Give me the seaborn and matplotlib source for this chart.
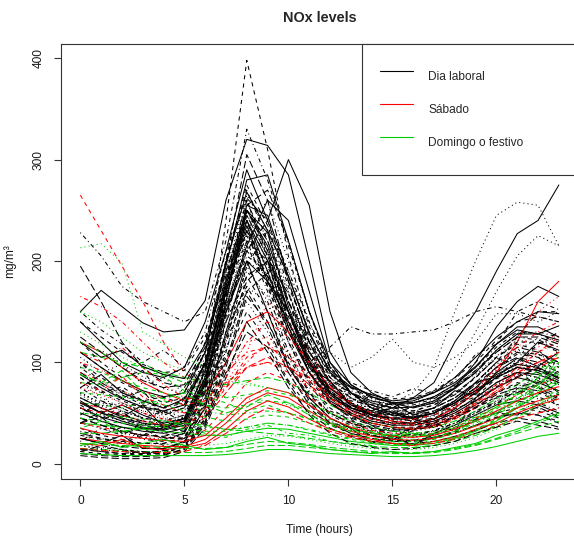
import matplotlib
matplotlib.use("Agg")
import matplotlib.pyplot as plt
import pandas as pd
import seaborn as sns

# NOx hourly curves (mg/m3), one list per day, hours 0..23
hours = list(range(24))

laboral = [
    [150, 171, 155, 139, 130, 132, 161, 260, 320, 314, 285, 200, 110, 78, 66, 60, 62, 70, 85, 105, 125, 140, 150, 148],
    [228, 205, 175, 160, 150, 140, 150, 220, 330, 280, 215, 150, 95, 70, 55, 48, 45, 50, 60, 75, 95, 110, 105, 90],
    [195, 160, 120, 95, 80, 75, 110, 200, 305, 260, 180, 120, 80, 60, 50, 45, 42, 45, 55, 70, 85, 95, 90, 80],
    [140, 120, 100, 90, 85, 95, 140, 210, 290, 240, 300, 255, 150, 90, 70, 60, 55, 60, 75, 100, 135, 160, 175, 165],
    [58, 45, 52, 34, 38, 40, 95, 240, 398, 310, 205, 135, 95, 75, 62, 55, 52, 58, 68, 85, 105, 118, 112, 95],
    [80, 65, 55, 45, 40, 45, 90, 180, 260, 200, 140, 95, 70, 60, 55, 60, 70, 95, 150, 200, 245, 258, 255, 215],
    [60, 50, 45, 40, 38, 42, 85, 170, 240, 190, 130, 90, 65, 55, 50, 55, 65, 80, 120, 150, 190, 227, 240, 275],
    [110, 95, 80, 70, 60, 65, 110, 200, 270, 220, 160, 110, 80, 65, 55, 50, 50, 55, 65, 80, 100, 125, 150, 150],
    [90, 75, 65, 55, 50, 55, 100, 180, 240, 200, 150, 120, 110, 95, 105, 123, 100, 95, 105, 120, 148, 148, 140, 150],
    [100, 80, 70, 60, 55, 60, 95, 170, 230, 180, 130, 100, 115, 135, 128, 128, 130, 132, 140, 150, 155, 150, 145, 140],
    [40, 46, 30, 35, 24, 30, 70, 160, 250, 210, 140, 90, 60, 45, 38, 26, 35, 40, 32, 65, 80, 90, 85, 70],
    [70, 60, 74, 42, 52, 45, 90, 190, 265, 230, 170, 110, 70, 52, 45, 40, 46, 38, 55, 70, 90, 100, 95, 85],
    [30, 25, 20, 28, 18, 25, 60, 140, 220, 170, 110, 70, 50, 40, 35, 22, 33, 38, 45, 55, 65, 70, 80, 55],
    [90, 78, 65, 72, 48, 55, 100, 175, 245, 205, 150, 105, 75, 60, 52, 48, 50, 55, 65, 80, 100, 115, 110, 100],
    [25, 20, 28, 15, 15, 22, 55, 130, 200, 150, 95, 65, 45, 35, 20, 28, 18, 30, 38, 48, 58, 62, 58, 50],
    [120, 100, 85, 92, 65, 70, 120, 200, 275, 235, 175, 125, 85, 68, 58, 52, 52, 58, 70, 85, 105, 120, 120, 110],
    [45, 38, 32, 28, 36, 32, 75, 165, 255, 270, 220, 150, 95, 70, 58, 50, 48, 52, 62, 78, 95, 105, 100, 90],
    [65, 55, 46, 58, 36, 42, 85, 150, 200, 180, 140, 100, 70, 55, 48, 45, 45, 50, 60, 72, 85, 95, 92, 85],
    [15, 12, 10, 10, 10, 18, 45, 110, 185, 150, 100, 65, 45, 35, 28, 25, 18, 28, 35, 42, 50, 55, 52, 45],
    [55, 48, 42, 38, 35, 40, 80, 150, 230, 260, 200, 140, 90, 65, 52, 48, 47, 52, 62, 75, 92, 102, 98, 88],
    [100, 85, 72, 62, 56, 62, 105, 185, 260, 205, 150, 110, 82, 70, 62, 58, 60, 66, 78, 95, 115, 130, 128, 120],
    [35, 28, 24, 20, 20, 26, 65, 145, 215, 175, 120, 80, 55, 42, 36, 33, 34, 38, 46, 58, 70, 78, 75, 65],
    [80, 70, 60, 52, 48, 52, 95, 160, 210, 235, 190, 130, 85, 65, 55, 50, 50, 55, 65, 80, 100, 112, 108, 98],
    [20, 16, 14, 12, 12, 20, 50, 120, 195, 160, 105, 70, 48, 38, 32, 28, 28, 32, 40, 50, 60, 65, 60, 52],
    [125, 110, 95, 82, 75, 78, 115, 190, 250, 220, 160, 120, 90, 75, 65, 60, 60, 65, 75, 90, 110, 125, 125, 118],
    [50, 42, 36, 32, 30, 35, 78, 170, 240, 200, 135, 90, 62, 50, 42, 38, 38, 42, 50, 62, 75, 85, 80, 72],
    [75, 62, 52, 45, 42, 48, 92, 175, 225, 185, 135, 95, 68, 55, 48, 45, 46, 50, 60, 75, 95, 108, 105, 95],
    [10, 8, 7, 7, 8, 15, 40, 100, 170, 135, 90, 58, 40, 30, 25, 22, 22, 25, 30, 38, 45, 50, 48, 40],
    [60, 50, 42, 36, 34, 40, 82, 155, 215, 260, 240, 170, 100, 70, 55, 48, 46, 50, 60, 72, 88, 98, 95, 85],
    [85, 72, 62, 55, 50, 55, 98, 180, 260, 210, 150, 100, 72, 58, 50, 46, 46, 50, 60, 75, 95, 110, 108, 100],
    [40, 35, 30, 26, 24, 30, 70, 140, 190, 165, 120, 85, 60, 48, 42, 40, 40, 44, 52, 64, 78, 88, 85, 78],
    [110, 95, 82, 72, 66, 70, 110, 195, 280, 285, 220, 150, 100, 78, 66, 60, 60, 66, 78, 95, 118, 135, 135, 125],
    [30, 25, 22, 20, 20, 26, 62, 130, 175, 140, 95, 68, 50, 40, 35, 32, 33, 37, 45, 55, 66, 72, 70, 62],
    [70, 58, 48, 42, 38, 44, 88, 170, 235, 190, 135, 92, 66, 53, 46, 43, 43, 47, 56, 70, 86, 96, 92, 84],
    [95, 80, 68, 58, 52, 58, 100, 170, 220, 200, 160, 115, 85, 70, 62, 58, 58, 64, 76, 92, 110, 125, 122, 115],
    [45, 38, 32, 28, 27, 32, 72, 150, 210, 240, 180, 120, 78, 58, 48, 44, 44, 48, 58, 70, 85, 95, 92, 82],
    [18, 14, 12, 11, 11, 18, 48, 115, 160, 130, 90, 60, 42, 33, 28, 26, 26, 29, 35, 43, 52, 58, 55, 48],
    [65, 55, 48, 42, 40, 45, 85, 155, 200, 185, 150, 110, 80, 65, 58, 55, 56, 62, 75, 92, 112, 128, 130, 125],
    [8, 6, 5, 5, 6, 12, 35, 85, 140, 110, 75, 50, 35, 27, 22, 20, 20, 22, 27, 33, 40, 45, 42, 36],
    [55, 46, 40, 35, 33, 38, 80, 160, 250, 215, 150, 100, 68, 53, 45, 40, 40, 44, 52, 65, 80, 90, 88, 80],
    [140, 125, 110, 98, 90, 92, 125, 180, 230, 195, 145, 110, 88, 75, 68, 64, 65, 72, 85, 100, 122, 140, 145, 140],
    [25, 20, 17, 15, 15, 21, 56, 125, 180, 200, 150, 100, 65, 48, 38, 34, 34, 38, 46, 56, 68, 75, 72, 64],
    [88, 75, 64, 56, 52, 58, 100, 175, 255, 245, 185, 130, 90, 70, 60, 55, 56, 62, 74, 90, 112, 128, 128, 122],
    [12, 10, 9, 9, 10, 17, 44, 105, 150, 120, 82, 55, 38, 30, 25, 23, 23, 26, 31, 38, 46, 50, 48, 42],
    [70, 60, 52, 45, 42, 48, 90, 170, 245, 205, 150, 105, 78, 64, 58, 56, 60, 72, 95, 130, 170, 205, 225, 215],
    [22, 35, 28, 40, 30, 25, 60, 150, 210, 185, 120, 78, 52, 44, 30, 35, 28, 33, 40, 52, 60, 72, 66, 58],
    [48, 62, 55, 45, 52, 40, 85, 165, 230, 175, 125, 82, 60, 48, 55, 42, 38, 44, 58, 66, 84, 90, 78, 92],
    [105, 90, 98, 78, 85, 70, 110, 190, 245, 215, 170, 115, 78, 62, 70, 54, 50, 62, 58, 80, 98, 112, 124, 108],
    [32, 28, 36, 24, 22, 30, 66, 125, 195, 230, 160, 105, 72, 50, 44, 38, 42, 36, 48, 60, 58, 74, 82, 70],
    [12, 18, 14, 10, 13, 16, 42, 95, 165, 140, 98, 62, 40, 36, 28, 24, 30, 26, 32, 44, 50, 48, 56, 46],
    [75, 88, 70, 62, 55, 64, 98, 170, 235, 180, 150, 95, 82, 58, 52, 60, 48, 55, 72, 68, 90, 104, 96, 110],
    [150, 132, 118, 100, 112, 95, 130, 210, 262, 240, 190, 140, 96, 80, 72, 66, 74, 70, 82, 108, 118, 150, 160, 152],
    [40, 52, 44, 38, 34, 46, 78, 140, 185, 200, 168, 112, 70, 56, 46, 50, 44, 40, 54, 62, 76, 86, 94, 84],
    [62, 50, 58, 48, 40, 44, 92, 180, 250, 228, 155, 102, 74, 60, 48, 52, 44, 50, 62, 80, 86, 100, 120, 112],
    [85, 70, 76, 62, 66, 58, 102, 185, 240, 178, 130, 96, 70, 62, 58, 50, 56, 60, 68, 86, 104, 98, 118, 130],
    [18, 15, 22, 16, 14, 22, 50, 112, 175, 158, 110, 72, 50, 40, 34, 30, 32, 36, 40, 50, 62, 70, 64, 58],
    [120, 105, 112, 96, 88, 84, 118, 198, 268, 230, 185, 128, 92, 76, 68, 62, 64, 70, 80, 96, 118, 132, 128, 136],
    [28, 24, 22, 30, 26, 24, 58, 120, 170, 188, 135, 90, 60, 46, 40, 36, 36, 40, 48, 58, 70, 80, 76, 68],
    [95, 112, 98, 86, 74, 70, 112, 178, 228, 210, 168, 120, 88, 72, 64, 58, 60, 66, 78, 88, 106, 122, 118, 126],
    [55, 44, 50, 40, 36, 42, 74, 148, 205, 190, 142, 98, 70, 56, 48, 44, 46, 52, 60, 74, 90, 98, 94, 88],
    [14, 12, 10, 12, 9, 14, 38, 90, 130, 115, 80, 48, 30, 20, 16, 14, 15, 18, 22, 30, 36, 42, 38, 34],
    [68, 56, 60, 50, 44, 46, 80, 158, 220, 196, 150, 96, 64, 40, 30, 28, 26, 30, 38, 50, 62, 76, 84, 78],
]

sabado = [
    [265, 230, 195, 160, 120, 90, 75, 80, 95, 100, 95, 85, 70, 55, 45, 40, 38, 40, 48, 60, 75, 90, 100, 105],
    [165, 155, 140, 120, 100, 85, 80, 90, 110, 115, 105, 90, 72, 58, 48, 42, 40, 42, 50, 62, 78, 95, 110, 120],
    [120, 110, 95, 80, 70, 62, 70, 100, 140, 150, 130, 100, 75, 58, 48, 42, 40, 44, 55, 70, 90, 120, 160, 180],
    [90, 82, 72, 62, 55, 50, 60, 90, 120, 125, 110, 88, 66, 52, 44, 40, 38, 40, 48, 60, 76, 95, 115, 130],
    [60, 55, 48, 42, 38, 36, 45, 70, 95, 105, 95, 78, 60, 48, 40, 36, 34, 36, 44, 55, 70, 85, 95, 105],
    [40, 36, 32, 28, 26, 25, 33, 55, 80, 90, 82, 66, 50, 40, 33, 30, 28, 30, 36, 45, 56, 68, 78, 85],
    [110, 100, 115, 95, 78, 65, 62, 75, 95, 100, 90, 75, 60, 48, 40, 36, 35, 38, 46, 58, 72, 88, 100, 110],
    [25, 22, 20, 18, 17, 17, 24, 40, 60, 70, 65, 52, 40, 32, 27, 24, 23, 25, 30, 37, 45, 55, 62, 68],
    [75, 68, 60, 52, 46, 42, 52, 80, 110, 160, 140, 110, 80, 60, 48, 42, 40, 44, 55, 70, 92, 125, 150, 165],
    [15, 13, 12, 11, 11, 12, 18, 30, 45, 55, 50, 40, 32, 26, 22, 20, 19, 20, 24, 30, 37, 45, 50, 55],
    [55, 50, 58, 50, 44, 40, 48, 75, 105, 115, 105, 85, 65, 52, 44, 40, 38, 40, 48, 60, 75, 90, 100, 110],
    [100, 92, 82, 72, 64, 58, 62, 85, 120, 140, 125, 100, 76, 60, 50, 45, 44, 48, 58, 74, 95, 115, 130, 140],
    [35, 30, 27, 25, 23, 22, 28, 45, 65, 75, 70, 58, 45, 36, 30, 27, 26, 28, 34, 42, 52, 62, 70, 76],
    [80, 72, 86, 66, 58, 50, 54, 78, 100, 120, 96, 82, 64, 50, 40, 36, 34, 38, 46, 58, 72, 92, 110, 125],
    [20, 18, 24, 16, 14, 16, 20, 34, 52, 62, 56, 44, 34, 28, 24, 20, 18, 22, 26, 34, 40, 50, 58, 64],
]

festivo = [
    [213, 217, 198, 130, 118, 105, 95, 85, 80, 75, 70, 60, 50, 42, 36, 32, 30, 32, 38, 46, 55, 62, 70, 75],
    [110, 105, 100, 95, 90, 85, 80, 78, 82, 85, 80, 70, 58, 48, 40, 36, 34, 36, 42, 52, 64, 78, 92, 105],
    [80, 78, 85, 90, 88, 80, 70, 65, 68, 72, 68, 60, 50, 42, 36, 32, 30, 32, 38, 46, 56, 68, 80, 90],
    [60, 58, 55, 60, 62, 58, 52, 48, 50, 52, 50, 45, 38, 32, 28, 25, 24, 26, 32, 40, 50, 62, 75, 88],
    [40, 38, 36, 34, 32, 30, 28, 28, 32, 35, 34, 30, 26, 22, 20, 18, 18, 20, 25, 32, 42, 55, 68, 80],
    [25, 24, 22, 20, 19, 18, 18, 20, 24, 28, 27, 24, 20, 17, 15, 14, 14, 16, 20, 26, 34, 44, 55, 66],
    [15, 14, 13, 12, 12, 11, 11, 12, 15, 18, 18, 16, 14, 12, 11, 10, 10, 11, 14, 18, 24, 30, 36, 42],
    [95, 90, 82, 75, 70, 64, 58, 55, 58, 62, 60, 52, 44, 37, 32, 28, 27, 29, 35, 43, 54, 68, 85, 100],
    [50, 48, 46, 44, 42, 40, 36, 34, 36, 40, 38, 34, 29, 25, 22, 20, 20, 22, 27, 34, 44, 56, 70, 85],
    [10, 9, 8, 8, 8, 8, 8, 9, 11, 14, 14, 12, 10, 9, 8, 7, 7, 8, 10, 13, 17, 22, 27, 30],
    [130, 118, 105, 95, 88, 80, 72, 66, 64, 62, 58, 50, 42, 36, 31, 28, 27, 29, 34, 42, 52, 64, 78, 90],
    [30, 30, 32, 35, 38, 40, 38, 34, 32, 30, 28, 25, 22, 19, 17, 16, 16, 18, 22, 28, 36, 46, 58, 70],
    [70, 68, 66, 62, 58, 52, 46, 42, 44, 48, 46, 40, 34, 29, 25, 22, 22, 24, 30, 38, 48, 60, 72, 82],
    [20, 19, 18, 17, 16, 15, 15, 16, 19, 22, 21, 19, 16, 14, 12, 11, 11, 12, 15, 19, 25, 32, 40, 48],
    [45, 42, 40, 38, 36, 34, 32, 32, 36, 40, 38, 33, 28, 24, 21, 19, 19, 21, 26, 33, 43, 57, 75, 100],
    [150, 140, 125, 110, 100, 92, 85, 80, 78, 75, 70, 60, 50, 42, 36, 32, 30, 32, 38, 47, 58, 72, 88, 105],
    [35, 42, 30, 38, 44, 36, 30, 26, 34, 38, 30, 28, 22, 20, 18, 22, 16, 18, 24, 30, 38, 52, 60, 74],
    [88, 80, 92, 70, 64, 70, 58, 50, 56, 68, 60, 48, 40, 34, 30, 28, 30, 26, 32, 42, 50, 64, 78, 96],
    [18, 22, 16, 20, 24, 18, 14, 16, 22, 26, 20, 18, 14, 12, 10, 12, 10, 12, 16, 20, 28, 34, 42, 50],
    [120, 110, 96, 100, 86, 72, 66, 60, 52, 58, 50, 44, 38, 32, 30, 26, 28, 30, 36, 44, 56, 70, 84, 110],
]

tipos = ["Dia laboral", "Sábado", "Domingo o festivo"]
colores = {"Dia laboral": "black", "Sábado": "red", "Domingo o festivo": "#00CD00"}
# R lty 1..5: solid, dashed, dotted, dotdash, longdash
guiones = {"1": "", "2": (4, 4), "3": (1, 3), "4": (1, 3, 4, 3), "5": (7, 3)}

# calendar order, the series starts on a friday
pools = {"Dia laboral": list(laboral), "Sábado": list(sabado), "Domingo o festivo": list(festivo)}
week = ["Dia laboral", "Sábado", "Domingo o festivo"] + ["Dia laboral"] * 4
rows = []
d = 0
while any(pools.values()):
    for t in week:
        if pools[t]:
            curve = pools[t].pop(0)
            for h, v in zip(hours, curve):
                rows.append({"dia": d, "semana": d // 7, "tipo": t,
                             "lty": str(d % 5 + 1), "hora": h, "nox": v})
            d += 1
df = pd.DataFrame(rows)

sns.set_style("white")
plt.rcParams["font.family"] = ["Liberation Sans", "DejaVu Sans"]

fig = plt.figure(figsize=(5.74, 5.40), dpi=100)
ax = fig.add_axes([61.2 / 574, 61.3 / 540, 516.8 / 574, 434.7 / 540])

for w, sub in df.groupby("semana"):
    sns.lineplot(data=sub, x="hora", y="nox", hue="tipo", hue_order=tipos,
                 palette=colores, style="lty", style_order=list(guiones),
                 dashes=guiones, units="dia", estimator=None, lw=0.75,
                 legend=False, ax=ax)

ax.set_xlim(-0.92, 23.92)
ax.set_ylim(-14.8, 414.1)
ax.set_xticks([0, 5, 10, 15, 20])
ax.set_yticks([0, 100, 200, 300, 400])
for s in ax.spines.values():
    s.set_color("#333333")
    s.set_linewidth(0.8)
ax.tick_params(direction="out", length=5, width=0.8, color="#333333",
               labelsize=8.6, labelcolor="#1a1a1a", pad=7,
               left=True, bottom=True)
ax.tick_params(axis="y", labelrotation=90)
for lab in ax.get_yticklabels():
    lab.set_va("center")

ax.set_xlabel("Time (hours)", fontsize=8.6, labelpad=12, color="#1a1a1a")
ax.set_ylabel("mg/m³", fontsize=8.6, labelpad=12, color="#1a1a1a")
ax.set_title("NOx levels", fontsize=10.4, fontweight="bold", pad=16)

handles = [plt.Line2D([], [], color=colores[t], lw=0.8) for t in tipos]
leg = ax.legend(handles, tipos, loc="upper left", mode="expand",
                bbox_to_anchor=(0.582, 0.0, 0.418, 1.0), borderaxespad=0,
                fontsize=8.6, frameon=True, fancybox=False, framealpha=1,
                edgecolor="#333333", handlelength=2.8, handletextpad=1.25,
                borderpad=1.5, handleheight=3.4, labelspacing=0.3)
leg.get_frame().set_linewidth(0.8)

fig.savefig("out.png", dpi=100)
